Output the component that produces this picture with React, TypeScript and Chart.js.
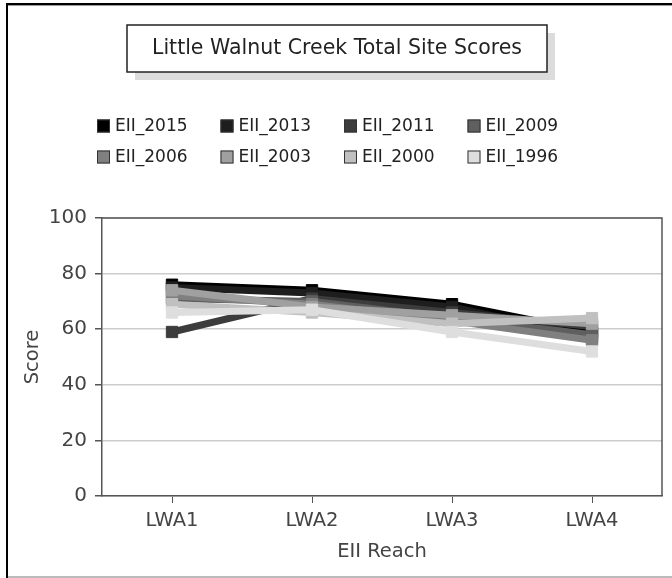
import React, { useEffect, useRef } from "react";
import { Chart, registerables } from "chart.js";

Chart.register(...registerables);

const TITLE = "Little Walnut Creek Total Site Scores";
const categories = ["LWA1", "LWA2", "LWA3", "LWA4"];
const seriesNames = ["EII_2015", "EII_2013", "EII_2011", "EII_2009", "EII_2006", "EII_2003", "EII_2000", "EII_1996"];
const seriesColors = ["#000000", "#1e1e1e", "#3c3c3c", "#5f5f5f", "#808080", "#a0a0a0", "#c0c0c0", "#dedede"];
const s2015 = [76, 74, 69, 59];
const s2013 = [75, 73, 68, 57];
const s2011 = [59, 71, 66, 61];
const s2009 = [71, 70, 64, 58];
const s2006 = [72, 69, 63, 56];
const s2003 = [74, 68, 65, 62];
const s2000 = [69, 66, 62, 64];
const s1996 = [66, 67, 59, 52];
const seriesValues = [s2015, s2013, s2011, s2009, s2006, s2003, s2000, s1996];
const yTicks = [0, 20, 40, 60, 80, 100];
const xTitle = "EII Reach";
const yTitle = "Score";

const FONT = "'DejaVu Sans', sans-serif";

const decorPlugin = {
  id: "decor",
  afterDraw(chart: any) {
    const ctx = chart.ctx as CanvasRenderingContext2D;
    const { chartArea } = chart;
    ctx.save();
    ctx.strokeStyle = "#555555";
    ctx.lineWidth = 1.5;
    ctx.beginPath();
    ctx.moveTo(chartArea.left, chartArea.top);
    ctx.lineTo(chartArea.right, chartArea.top);
    ctx.lineTo(chartArea.right, chartArea.bottom);
    ctx.stroke();

    const bx = 127, by = 25, bw = 420, bh = 47;
    ctx.fillStyle = "#dcdcdc";
    ctx.fillRect(bx + 8, by + 8, bw, bh);
    ctx.fillStyle = "#ffffff";
    ctx.fillRect(bx, by, bw, bh);
    ctx.strokeStyle = "#222222";
    ctx.lineWidth = 1.5;
    ctx.strokeRect(bx, by, bw, bh);
    ctx.fillStyle = "#222222";
    ctx.font = `20.5px ${FONT}`;
    ctx.textAlign = "center";
    ctx.textBaseline = "middle";
    ctx.fillText(TITLE, bx + bw / 2, by + bh / 2);

    ctx.font = `17px ${FONT}`;
    ctx.textAlign = "left";
    chart.data.datasets.forEach((ds: any, i: number) => {
      const col = i % 4;
      const row = Math.floor(i / 4);
      const x = 97 + col * 123.5;
      const y = 126 + row * 31;
      ctx.fillStyle = ds.backgroundColor;
      ctx.fillRect(x, y - 6.5, 13, 13);
      ctx.strokeStyle = "#333333";
      ctx.lineWidth = 1;
      ctx.strokeRect(x + 0.5, y - 6, 12, 12);
      ctx.fillStyle = "#222222";
      ctx.fillText(ds.label, x + 18, y + 1);
    });
    ctx.restore();
  },
};

export default function App() {
  const ref = useRef<HTMLCanvasElement | null>(null);
  useEffect(() => {
    document.body.style.margin = "0";
    const canvas = ref.current!;
    const chart = new Chart(canvas, {
      type: "line",
      data: {
        labels: categories,
        datasets: seriesNames.map((name, i) => ({
          label: name,
          data: seriesValues[i],
          borderColor: seriesColors[i],
          backgroundColor: seriesColors[i],
          pointBackgroundColor: seriesColors[i],
          pointBorderColor: seriesColors[i],
          borderWidth: 7,
          pointStyle: "rect",
          pointRadius: 8,
          pointBorderWidth: 1,
          tension: 0,
          order: 7 - i,
        })),
      },
      options: {
        animation: false,
        responsive: false,
        maintainAspectRatio: false,
        layout: { padding: { top: 218, right: 10, left: 0, bottom: 14 } },
        plugins: {
          legend: { display: false },
          title: { display: false },
          tooltip: { enabled: false },
        },
        scales: {
          x: {
            type: "category",
            offset: true,
            grid: {
              display: true,
              drawOnChartArea: false,
              offset: false,
              tickLength: 7,
              tickColor: "#555555",
            },
            border: { display: true, color: "#555555", width: 1.5 },
            ticks: { color: "#444444", font: { family: FONT, size: 19.5 }, padding: 6 },
            title: {
              display: true,
              text: xTitle,
              color: "#444444",
              font: { family: FONT, size: 19.5 },
              padding: { top: 2, bottom: 0 },
            },
            afterFit(scale: any) {
              scale.height = 578 - 14 - 496;
            },
          },
          y: {
            min: 0,
            max: 100,
            afterBuildTicks(scale: any) {
              scale.ticks = yTicks.map((v) => ({ value: v }));
            },
            grid: {
              color: "#cccccc",
              lineWidth: 1.5,
              tickLength: 7,
              tickColor: "#555555",
            },
            border: { display: true, color: "#555555", width: 1.5 },
            ticks: { color: "#444444", font: { family: FONT, size: 20 }, padding: 8 },
            title: {
              display: true,
              text: yTitle,
              color: "#444444",
              font: { family: FONT, size: 19.5 },
              padding: { top: 21, bottom: 0 },
            },
            afterFit(scale: any) {
              scale.width = 102;
            },
          },
        },
      },
      plugins: [decorPlugin],
    });
    return () => chart.destroy();
  }, []);

  return (
    <div style={{ position: "relative", width: 672, height: 578, background: "#fff", overflow: "hidden" }}>
      <canvas ref={ref} width={672} height={578} style={{ display: "block" }} />
      <div style={{ position: "absolute", left: 6, top: 3, width: 2, height: 575, background: "#000" }} />
      <div style={{ position: "absolute", left: 6, top: 3, width: 666, height: 2, background: "#000" }} />
      <div style={{ position: "absolute", left: 8, top: 5, width: 664, height: 1, background: "#999" }} />
      <div style={{ position: "absolute", left: 8, top: 576, width: 664, height: 2, background: "#bbb" }} />
    </div>
  );
}
